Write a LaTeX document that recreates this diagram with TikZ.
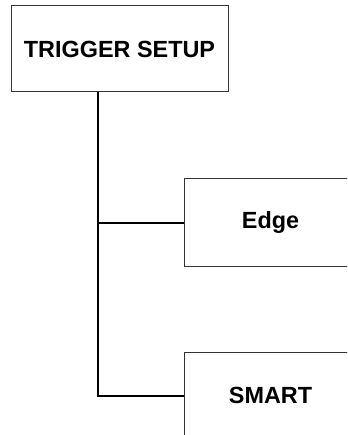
\documentclass[tikz,border=0pt]{standalone}
\usepackage{fontspec}
\setmainfont{Liberation Sans}
\begin{document}
\begin{tikzpicture}[x=1pt,y=1pt,
  menubox/.style={draw=black!80, line width=1pt, rectangle, inner sep=0pt,
    font=\fontsize{23.4}{28}\selectfont\bfseries, text=black},
  link/.style={draw=black, line width=2pt}]
\useasboundingbox (0,0) rectangle (347,-435);
\clip (0,0) rectangle (347,-435);
\fill[white] (0,0) rectangle (347,-435);
\node[menubox, minimum width=217pt, minimum height=86pt] (top) at (119.5,-49) {TRIGGER SETUP};
\node[menubox, minimum width=173pt, minimum height=87pt] (edge) at (270.5,-222.5) {Edge};
\node[menubox, minimum width=173pt, minimum height=87pt] (smart) at (270.5,-395.5) {SMART};
\coordinate (trunk) at (97.5,-92);
\coordinate (jedge) at (trunk |- edge.west);
\coordinate (jsmart) at (trunk |- smart.west);
\draw[link] (trunk) -- (jsmart) -- (smart.west);
\draw[link] (jedge) -- (edge.west);
\end{tikzpicture}
\end{document}
